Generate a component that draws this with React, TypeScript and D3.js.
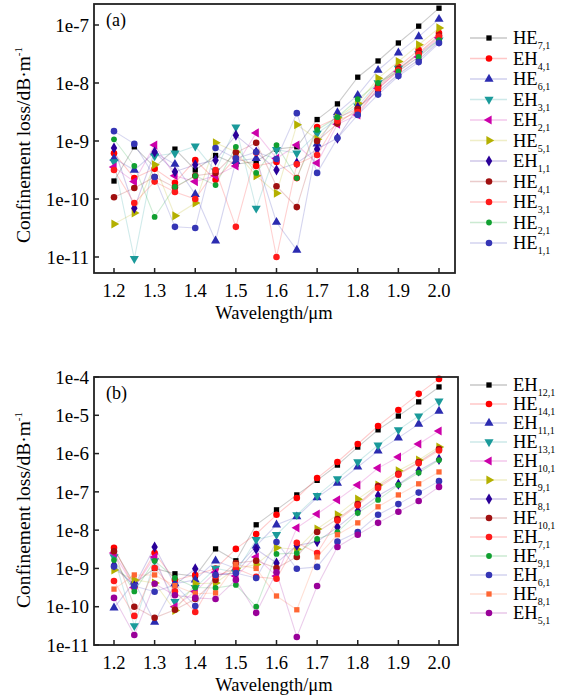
import React from 'react';
import * as d3 from 'd3';

// Wavelength (µm) sampling
const wavelengths = [1.2, 1.25, 1.3, 1.35, 1.4, 1.45, 1.5, 1.55, 1.6, 1.65, 1.7, 1.75, 1.8, 1.85, 1.9, 1.95, 2.0];
const xTicks = [1.2, 1.3, 1.4, 1.5, 1.6, 1.7, 1.8, 1.9, 2.0];

// y ticks
const aTicks = [1e-11, 1e-10, 1e-9, 1e-8, 1e-7];
const aTickLabels = ['1e-11', '1e-10', '1e-9', '1e-8', '1e-7'];
const bTicks = [1e-11, 1e-10, 1e-9, 1e-8, 1e-7, 1e-6, 1e-5, 1e-4];
const bTickLabels = ['1e-11', '1e-10', '1e-9', '1e-8', '1e-7', '1e-6', '1e-5', '1e-4'];

// Panel (a): log10 of confinement loss (dB/m)
const aHE71 = [-9.69, -9.1, -9.45, -9.14, -9.5, -9.25, -9.4, -9.35, -9.14, -9.1, -8.63, -8.36, -7.9, -7.62, -7.31, -7.02, -6.71];
const aEH41 = [-9.21, -9.64, -9.48, -9.72, -9.33, -9.67, -9.29, -9.43, -9.36, -9.64, -8.76, -8.6, -8.45, -8.03, -7.72, -7.43, -7.14];
const aHE61 = [-9.3, -9.5, -9.2, -9.4, -9.92, -10.72, -9.35, -9.3, -10.4, -10.88, -9.05, -8.51, -8.21, -7.78, -7.48, -7.2, -6.9];
const aEH31 = [-9.36, -11.03, -9.26, -9.21, -9.09, -9.52, -8.76, -10.16, -9.15, -9.21, -8.87, -8.62, -8.4, -8.0, -7.75, -7.5, -7.26];
const aEH21 = [-9.45, -9.7, -9.07, -9.6, -9.7, -9.6, -9.43, -8.86, -9.3, -9.07, -9.38, -8.71, -8.55, -8.09, -7.8, -7.55, -7.22];
const aHE51 = [-10.43, -10.24, -9.41, -10.29, -10.07, -9.03, -9.19, -9.6, -9.9, -8.72, -8.97, -8.6, -8.35, -7.92, -7.63, -7.34, -7.05];
const aEH11 = [-9.12, -10.16, -9.19, -9.53, -9.41, -9.33, -8.9, -9.19, -9.5, -9.38, -9.14, -8.95, -8.42, -8.15, -7.85, -7.6, -7.28];
const aHE41 = [-9.97, -9.81, -9.62, -9.8, -9.6, -9.55, -9.2, -9.03, -9.78, -10.14, -9.0, -8.7, -8.45, -8.06, -7.76, -7.48, -7.18];
const aHE31 = [-9.5, -10.07, -9.7, -9.88, -10.0, -9.5, -10.48, -9.2, -11.0, -9.4, -9.24, -8.65, -8.5, -8.1, -7.78, -7.5, -7.2];
const aHE21 = [-8.97, -9.43, -10.31, -9.79, -9.6, -9.76, -9.1, -9.55, -9.07, -9.64, -8.81, -8.59, -8.28, -8.0, -7.8, -7.55, -7.26];
const aHE11 = [-8.83, -9.05, -9.62, -10.48, -10.5, -9.12, -9.3, -9.19, -9.31, -8.52, -9.55, -8.95, -8.55, -8.2, -7.88, -7.64, -7.31];

// Panel (b): log10 of confinement loss (dB/m)
const bEH121 = [-8.5, -9.4, -9.0, -9.14, -9.2, -8.49, -8.8, -7.86, -7.47, -7.08, -6.7, -6.3, -5.83, -5.38, -5.02, -4.65, -4.26];
const bHE141 = [-8.46, -9.5, -8.6, -9.3, -9.17, -9.0, -8.49, -8.1, -7.6, -7.16, -6.64, -6.22, -5.75, -5.28, -4.86, -4.44, -4.05];
const bEH111 = [-10.03, -9.35, -10.4, -9.4, -9.3, -8.8, -9.0, -8.41, -7.86, -7.65, -7.15, -6.77, -6.35, -5.93, -5.59, -5.23, -4.89];
const bHE131 = [-8.7, -10.5, -8.8, -9.87, -9.5, -9.0, -9.1, -8.25, -8.12, -7.6, -7.1, -6.66, -6.22, -5.78, -5.38, -5.02, -4.63];
const bEH101 = [-8.6, -9.5, -8.7, -10.0, -9.6, -9.1, -9.2, -8.7, -9.2, -7.94, -7.58, -7.21, -6.82, -6.38, -6.09, -5.75, -5.41];
const bEH91 = [-9.04, -9.3, -9.38, -10.1, -9.4, -9.38, -9.0, -8.9, -8.46, -8.5, -7.97, -7.6, -7.19, -6.82, -6.45, -6.17, -5.83];
const bEH81 = [-8.91, -9.46, -8.44, -9.43, -9.01, -9.17, -9.12, -8.5, -8.86, -8.4, -8.3, -7.92, -7.5, -7.1, -6.8, -6.45, -6.15];
const bHE101 = [-8.55, -10.0, -10.29, -10.08, -9.8, -9.3, -8.86, -8.8, -8.99, -8.7, -8.05, -7.71, -7.32, -6.85, -6.53, -6.22, -5.88];
const bEH71 = [-9.33, -10.24, -8.99, -9.6, -10.14, -9.2, -9.0, -9.22, -9.27, -8.33, -8.6, -7.75, -7.35, -6.9, -6.55, -6.25, -5.92];
const bHE91 = [-8.78, -9.6, -8.8, -9.25, -9.5, -9.51, -9.43, -10.0, -8.62, -8.6, -8.23, -8.05, -7.55, -7.21, -6.82, -6.5, -6.17];
const bEH61 = [-8.95, -9.46, -9.61, -9.43, -9.98, -9.17, -9.12, -9.25, -8.31, -9.01, -8.96, -8.3, -8.05, -7.6, -7.32, -7.02, -6.72];
const bHE81 = [-9.54, -9.17, -9.17, -9.45, -9.66, -9.64, -8.9, -9.0, -9.72, -10.08, -8.7, -8.12, -7.81, -7.39, -7.08, -6.79, -6.48];
const bEH51 = [-9.77, -10.74, -9.4, -9.7, -9.77, -9.8, -9.3, -10.16, -9.1, -10.79, -9.46, -8.44, -8.12, -7.81, -7.52, -7.24, -6.87];

const aNames = [['HE', '7,1'], ['EH', '4,1'], ['HE', '6,1'], ['EH', '3,1'], ['EH', '2,1'], ['HE', '5,1'], ['EH', '1,1'], ['HE', '4,1'], ['HE', '3,1'], ['HE', '2,1'], ['HE', '1,1']];
const aValues = [aHE71, aEH41, aHE61, aEH31, aEH21, aHE51, aEH11, aHE41, aHE31, aHE21, aHE11];
const aColors = ['#000000', '#ff0000', '#2b2bb0', '#1a9a9a', '#cc00aa', '#b4b000', '#2a0099', '#a01010', '#ff1a1a', '#10a030', '#3535b5'];
const aShapes = ['square', 'circle', 'triUp', 'triDown', 'triLeft', 'triRight', 'diamond', 'circle', 'circle', 'small', 'circle'];

const bNames = [['EH', '12,1'], ['HE', '14,1'], ['EH', '11,1'], ['HE', '13,1'], ['EH', '10,1'], ['EH', '9,1'], ['EH', '8,1'], ['HE', '10,1'], ['EH', '7,1'], ['HE', '9,1'], ['EH', '6,1'], ['HE', '8,1'], ['EH', '5,1']];
const bValues = [bEH121, bHE141, bEH111, bHE131, bEH101, bEH91, bEH81, bHE101, bEH71, bHE91, bEH61, bHE81, bEH51];
const bColors = ['#000000', '#ff0000', '#2b2bb0', '#1a9a9a', '#cc00aa', '#b4b000', '#2a0099', '#a01010', '#ff1a1a', '#10a030', '#3535b5', '#ff6633', '#990099'];
const bShapes = ['square', 'circle', 'triUp', 'triDown', 'triLeft', 'triRight', 'diamond', 'circle', 'circle', 'small', 'circle', 'square', 'circle'];

const FONT = '"Liberation Serif", "Times New Roman", serif';

function markerPath(shape: string): string {
  const sym = (t: any, s: number) => d3.symbol().type(t).size(s)() as string;
  switch (shape) {
    case 'square': return sym(d3.symbolSquare, 28);
    case 'triUp': case 'triDown': case 'triLeft': case 'triRight': return sym(d3.symbolTriangle, 36);
    case 'diamond': return sym(d3.symbolDiamond, 36);
    case 'small': return sym(d3.symbolCircle, 26);
    default: return sym(d3.symbolCircle, 34);
  }
}
function markerRot(shape: string): number {
  return shape === 'triDown' ? 180 : shape === 'triLeft' ? -90 : shape === 'triRight' ? 90 : 0;
}

type PanelProps = {
  frame: { left: number; right: number; top: number; bottom: number };
  yDomain: [number, number];
  yRange: [number, number];
  ticks: number[];
  tickLabels: string[];
  names: string[][];
  values: number[][];
  colors: string[];
  shapes: string[];
  tag: string;
  legendTop: number;
  legendStep: number;
  titleY: number;
};

function Panel(p: PanelProps) {
  const x = d3.scaleLinear().domain([1.2, 2.0]).range([114, 439]);
  const y = d3.scaleLog().domain(p.yDomain).range(p.yRange);
  const line = d3.line<number>().x((_, i) => x(wavelengths[i])).y((v) => y(Math.pow(10, v)));
  const f = p.frame;
  return (
    <g>
      {p.values.map((vals, si) => (
        <path key={'l' + si} d={line(vals) as string} fill="none" stroke={p.colors[si]} strokeOpacity={0.2} strokeWidth={1.1} />
      ))}
      {p.values.map((vals, si) => (
        <g key={'m' + si}>
          {vals.map((v, i) => (
            <path key={i} d={markerPath(p.shapes[si])} fill={p.colors[si]}
              transform={`translate(${x(wavelengths[i])},${y(Math.pow(10, v))}) rotate(${markerRot(p.shapes[si])})`} />
          ))}
        </g>
      ))}
      <rect x={f.left} y={f.top} width={f.right - f.left} height={f.bottom - f.top} fill="none" stroke="#222" strokeWidth={1.8} />
      {p.ticks.map((t, i) => (
        <g key={'yt' + i}>
          <line x1={f.left} x2={f.left + 5} y1={y(t)} y2={y(t)} stroke="#222" strokeWidth={1.5} />
          <text x={89} y={y(t)} dy="0.35em" textAnchor="end" fontFamily={FONT} fontSize={19}>{p.tickLabels[i]}</text>
        </g>
      ))}
      {xTicks.map((t, i) => (
        <g key={'xt' + i}>
          <line x1={x(t)} x2={x(t)} y1={f.bottom} y2={f.bottom - 5} stroke="#222" strokeWidth={1.5} />
          <text x={x(t)} y={f.bottom + 24} textAnchor="middle" fontFamily={FONT} fontSize={18.5}>{t.toFixed(1)}</text>
        </g>
      ))}
      <text x={274} y={f.bottom + 46} textAnchor="middle" fontFamily={FONT} fontSize={18.5}>Wavelength/μm</text>
      <text transform={`translate(30,${p.titleY}) rotate(-90)`} textAnchor="middle" fontFamily={FONT} fontSize={19.5}>
        Confinement loss/dB·m<tspan dy={-8} fontSize={11}>-1</tspan>
      </text>
      <text x={106} y={f.top + 22} fontFamily={FONT} fontSize={18}>{p.tag}</text>
      {p.names.map((n, i) => {
        const ly = p.legendTop + i * p.legendStep;
        return (
          <g key={'lg' + i}>
            <line x1={470} x2={507} y1={ly} y2={ly} stroke={p.colors[i]} strokeOpacity={0.22} strokeWidth={1.5} />
            <path d={markerPath(p.shapes[i])} fill={p.colors[i]} transform={`translate(489,${ly}) rotate(${markerRot(p.shapes[i])})`} />
            <text x={513} y={ly} dy="0.35em" fontFamily={FONT} fontSize={18.5}>
              {n[0]}<tspan dy={5} fontSize={10}>{n[1]}</tspan>
            </text>
          </g>
        );
      })}
    </g>
  );
}

export default function App() {
  return (
    <svg width={562} height={698} style={{ position: 'absolute', left: 0, top: 0, background: '#fff' }}>
      <rect width={562} height={698} fill="#fff" />
      <Panel frame={{ left: 94, right: 455, top: 4, bottom: 273 }} yDomain={[1e-11, 1e-7]} yRange={[257, 25]}
        ticks={aTicks} tickLabels={aTickLabels} names={aNames} values={aValues} colors={aColors} shapes={aShapes}
        tag="(a)" legendTop={38} legendStep={20.5} titleY={145} />
      <Panel frame={{ left: 94, right: 458, top: 377, bottom: 645 }} yDomain={[1e-11, 1e-4]} yRange={[645, 377]}
        ticks={bTicks} tickLabels={bTickLabels} names={bNames} values={bValues} colors={bColors} shapes={bShapes}
        tag="(b)" legendTop={385} legendStep={19} titleY={510} />
    </svg>
  );
}
